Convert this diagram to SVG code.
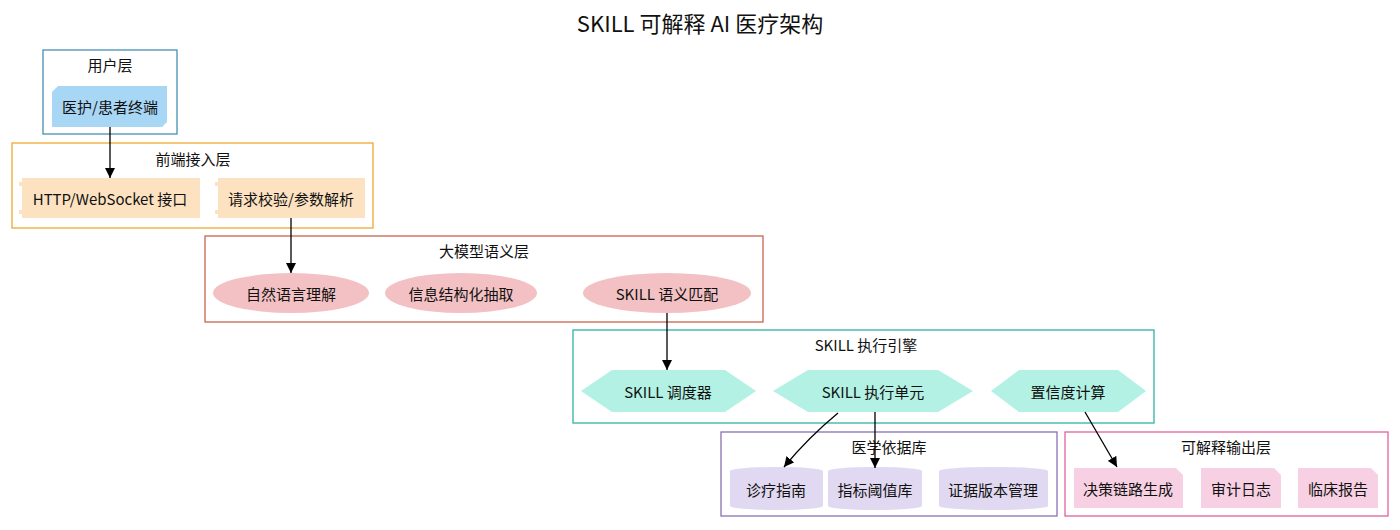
<svg xmlns="http://www.w3.org/2000/svg" width="1400" height="530" viewBox="0 0 1400 530">
<defs>
<style>
text{font-family:"Noto Sans CJK SC","Noto Sans",sans-serif;fill:#111;text-anchor:middle;dominant-baseline:central}
.t{font-size:22px}
.c{font-size:15px}
.n{font-size:15px}
.cl{fill:#fff;stroke-width:1.3}
.e{fill:none;stroke:#000;stroke-width:1.3}
</style>
<marker id="ah" viewBox="0 0 10 10" refX="10" refY="5" markerWidth="10" markerHeight="10" markerUnits="userSpaceOnUse" orient="auto">
<path d="M0,0 L10,5 L0,10 z" fill="#000"/>
</marker>
</defs>
<rect width="1400" height="530" fill="#fff"/>
<text class="t" x="700" y="22">SKILL 可解释 AI 医疗架构</text>

<g id="cluster-user">
<rect class="cl" x="43" y="50" width="134" height="84" stroke="#4a8fb5"/>
<text class="c" x="110" y="64">用户层</text>
</g>
<g id="cluster-front">
<rect class="cl" x="12" y="143" width="361" height="85" stroke="#f0a830"/>
<text class="c" x="193" y="158">前端接入层</text>
</g>
<g id="cluster-semantic">
<rect class="cl" x="205" y="236" width="558" height="86" stroke="#c8644e"/>
<text class="c" x="484" y="250">大模型语义层</text>
</g>
<g id="cluster-engine">
<rect class="cl" x="573" y="330" width="581" height="93" stroke="#2fb3a0"/>
<text class="c" x="866" y="344">SKILL 执行引擎</text>
</g>
<g id="cluster-kb">
<rect class="cl" x="721" y="432" width="336" height="84" stroke="#8a70b0"/>
<text class="c" x="889" y="446">医学依据库</text>
</g>
<g id="cluster-output">
<rect class="cl" x="1065" y="432" width="323" height="84" stroke="#e0609e"/>
<text class="c" x="1226" y="446">可解释输出层</text>
</g>

<g id="node-terminal">
<path d="M58,86 L167,86 L167,122 L162,127 L52,127 L52,92 z" fill="#a8d6f5"/>
<text class="n" x="110" y="106">医护/患者终端</text>
</g>
<g id="node-http">
<path d="M22,178 L200,178 L200,218 L22,218 L22,214 L19,214 L19,210 L22,210 L22,186 L19,186 L19,182 L22,182 z" fill="#fde2c2"/>
<text class="n" x="110" y="198">HTTP/WebSocket 接口</text>
</g>
<g id="node-validate">
<path d="M218,178 L365,178 L365,218 L218,218 L218,214 L215,214 L215,210 L218,210 L218,186 L215,186 L215,182 L218,182 z" fill="#fde2c2"/>
<text class="n" x="291" y="198">请求校验/参数解析</text>
</g>

<g id="node-nlu">
<ellipse cx="291" cy="293" rx="78" ry="20" fill="#f3c1c3"/>
<text class="n" x="291" y="293">自然语言理解</text>
</g>
<g id="node-extract">
<ellipse cx="461" cy="293" rx="76" ry="20" fill="#f3c1c3"/>
<text class="n" x="461" y="293">信息结构化抽取</text>
</g>
<g id="node-match">
<ellipse cx="667" cy="293" rx="84" ry="20" fill="#f3c1c3"/>
<text class="n" x="667" y="293">SKILL 语义匹配</text>
</g>

<g id="node-scheduler">
<polygon points="581,391 612,370 725,370 756,391 725,412 612,412" fill="#b2f1e3"/>
<text class="n" x="668" y="391">SKILL 调度器</text>
</g>
<g id="node-exec">
<polygon points="773,391 808,370 938,370 973,391 938,412 808,412" fill="#b2f1e3"/>
<text class="n" x="873" y="391">SKILL 执行单元</text>
</g>
<g id="node-confidence">
<polygon points="991,391 1019,370 1118,370 1146,391 1118,412 1019,412" fill="#b2f1e3"/>
<text class="n" x="1068" y="391">置信度计算</text>
</g>

<g id="node-guide">
<path d="M730,471 A46.5,4 0 0 1 823,471 L823,506 A46.5,4 0 0 1 730,506 z" fill="#e1d9f1"/>
<text class="n" x="776" y="489">诊疗指南</text>
</g>
<g id="node-threshold">
<path d="M828,471 A47,4 0 0 1 922,471 L922,506 A47,4 0 0 1 828,506 z" fill="#e1d9f1"/>
<text class="n" x="875" y="489">指标阈值库</text>
</g>
<g id="node-evidence">
<path d="M939,471 A54.5,4 0 0 1 1048,471 L1048,506 A54.5,4 0 0 1 939,506 z" fill="#e1d9f1"/>
<text class="n" x="993" y="489">证据版本管理</text>
</g>

<g id="node-chain">
<path d="M1074,468 L1176,468 L1183,475 L1183,508 L1074,508 z" fill="#f8d0e3"/>
<text class="n" x="1128" y="488">决策链路生成</text>
</g>
<g id="node-audit">
<path d="M1201,468 L1274,468 L1281,475 L1281,508 L1201,508 z" fill="#f8d0e3"/>
<text class="n" x="1241" y="488">审计日志</text>
</g>
<g id="node-report">
<path d="M1298,468 L1371,468 L1378,475 L1378,508 L1298,508 z" fill="#f8d0e3"/>
<text class="n" x="1338" y="488">临床报告</text>
</g>

<g id="connectors">
<path class="e" d="M110,127 L110,178" marker-end="url(#ah)"/>
<path class="e" d="M291,218 L291,273" marker-end="url(#ah)"/>
<path class="e" d="M667,313 L667,370" marker-end="url(#ah)"/>
<path class="e" d="M838,413 C815,432 798,450 784,467" marker-end="url(#ah)"/>
<path class="e" d="M875,412 L875,468" marker-end="url(#ah)"/>
<path class="e" d="M1085,412 L1117,467" marker-end="url(#ah)"/>
</g>
</svg>
